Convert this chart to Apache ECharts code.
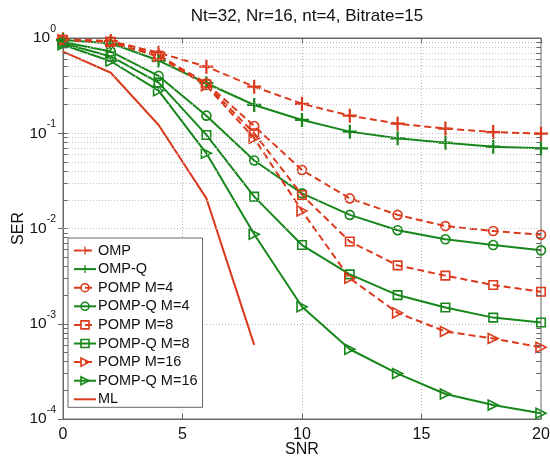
<!DOCTYPE html>
<html>
<head>
<meta charset="utf-8">
<script src="https://cdn.jsdelivr.net/npm/echarts@6/dist/echarts.min.js"></script>
<style>
html, body { margin: 0; padding: 0; background: #fff; }
#main { width: 550px; height: 457px; }
</style>
</head>
<body>
<div id="main"></div>
<script>
// SNR points
var snr = [0, 2, 4, 6, 8, 10, 12, 14, 16, 18, 20];
var snrML = [0, 2, 4, 6, 8];

// SER values
var omp       = [0.97, 0.93, 0.70, 0.50, 0.308, 0.204, 0.153, 0.126, 0.112, 0.103, 0.099];
var ompQ      = [0.95, 0.88, 0.58, 0.335, 0.198, 0.138, 0.104, 0.0885, 0.0796, 0.0722, 0.0695];
var pompM4    = [0.96, 0.92, 0.66, 0.335, 0.119, 0.0411, 0.0207, 0.0139, 0.0106, 0.0094, 0.0086];
var pompQM4   = [0.91, 0.72, 0.40, 0.153, 0.0518, 0.0234, 0.0139, 0.0096, 0.0077, 0.0067, 0.0059];
var pompM8    = [0.96, 0.91, 0.65, 0.325, 0.100, 0.0225, 0.0073, 0.0041, 0.0032, 0.00255, 0.00217];
var pompQM8   = [0.88, 0.64, 0.34, 0.096, 0.0216, 0.0067, 0.0033, 0.0020, 0.00148, 0.00116, 0.00103];
var pompM16   = [0.96, 0.90, 0.64, 0.315, 0.0885, 0.0153, 0.0030, 0.0013, 0.00083, 0.0007, 0.000565];
var pompQM16  = [0.85, 0.57, 0.28, 0.0616, 0.0087, 0.00151, 0.00054, 0.0003, 0.000183, 0.00014, 0.000115];
var ml        = [0.718, 0.432, 0.122, 0.0207, 0.0006];

// axis ticks
var xTicks = [0, 5, 10, 15, 20];
var yDecades = [1e-4, 1e-3, 1e-2, 1e-1, 1];
var yMinorSteps = [2, 3, 4, 5, 6, 7, 8, 9];

var red = '#dc3a1c';
var green = '#17871b';
var font = 'Liberation Sans';
var plus = 'path://M4.2,0H5.8V4.2H10V5.8H5.8V10H4.2V5.8H0V4.2H4.2Z';
var dash = [7, 4];
var clear = 'rgba(255,255,255,0)';

var minorVals = [];
for (var d = 0; d < yDecades.length - 1; d++) {
    for (var k = 0; k < yMinorSteps.length; k++) {
        minorVals.push(yDecades[d] * yMinorSteps[k]);
    }
}
var gridMarks = [];
minorVals.forEach(function (v) { gridMarks.push({ yAxis: v }); });
var edgeTicks = [];
minorVals.forEach(function (v) {
    edgeTicks.push([{ coord: [0, v] }, { coord: [0.2, v] }]);
    edgeTicks.push([{ coord: [19.8, v] }, { coord: [20, v] }]);
});

function isHollow(symbol) { return symbol !== plus && symbol !== 'none'; }

function markStyle(color, symbol) {
    if (symbol === 'none') return { color: clear, borderWidth: 0, opacity: 0 };
    return isHollow(symbol)
        ? { color: clear, borderColor: color, borderWidth: 1.6 }
        : { color: color, borderWidth: 0 };
}

function mk(name, xs, ys, color, dashed, symbol, size, rotate) {
    return {
        name: name,
        type: 'line',
        data: xs.map(function (x, i) { return [x, ys[i]]; }),
        symbol: symbol,
        symbolSize: size,
        symbolRotate: rotate || 0,
        showAllSymbol: true,
        z: 3,
        lineStyle: { color: color, width: 2, type: dashed ? dash : 'solid' },
        itemStyle: markStyle(color, symbol),
        emphasis: { disabled: true },
        animation: false
    };
}

function lg(name, color, dashed, symbol) {
    return {
        name: name,
        itemStyle: markStyle(color, symbol),
        lineStyle: { color: color, width: 2, type: dashed ? dash : 'solid' }
    };
}

var chart = echarts.init(document.getElementById('main'));
var option = {
    backgroundColor: '#fff',
    title: {
        text: 'Nt=32, Nr=16, nt=4, Bitrate=15',
        left: 302,
        textAlign: 'center',
        top: 3,
        textStyle: { fontFamily: font, fontSize: 17, fontWeight: 'normal', color: '#111' }
    },
    grid: {
        left: 63, right: 9, top: 38, bottom: 38,
        containLabel: false, outerBoundsMode: 'none',
        show: true, borderColor: '#666', borderWidth: 1
    },
    legend: {
        orient: 'vertical',
        left: 68,
        top: 238,
        padding: [5, 5, 0.5, 5],
        itemWidth: 22,
        itemHeight: 10,
        itemGap: 3.6,
        backgroundColor: '#fff',
        borderColor: '#666',
        borderWidth: 1,
        borderRadius: 0,
        textStyle: { fontFamily: font, fontSize: 14.5, color: '#111', lineHeight: 14.5, padding: [0, 0, 0, -3] },
        data: [
            lg('OMP', red, true, plus),
            lg('OMP-Q', green, false, plus),
            lg('POMP M=4', red, true, 'circle'),
            lg('POMP-Q M=4', green, false, 'circle'),
            lg('POMP M=8', red, true, 'rect'),
            lg('POMP-Q M=8', green, false, 'rect'),
            lg('POMP M=16', red, true, 'triangle'),
            lg('POMP-Q M=16', green, false, 'triangle'),
            lg('ML', red, false, 'none')
        ]
    },
    xAxis: [{
        type: 'value',
        min: 0, max: 20, interval: 5,
        name: 'SNR',
        nameLocation: 'middle',
        nameGap: 23,
        nameMoveOverlap: false,
        nameTextStyle: { fontFamily: font, fontSize: 16, color: '#111' },
        axisLine: { lineStyle: { color: '#666' } },
        axisTick: { inside: true, length: 5, lineStyle: { color: '#666' } },
        axisLabel: { margin: 8, fontFamily: font, fontSize: 16, color: '#111',
            formatter: function (v) { return xTicks.indexOf(v) >= 0 ? String(v) : ''; } },
        splitLine: { show: true, lineStyle: { color: '#b8b8b8', type: [1, 2] } }
    }, {
        type: 'value', position: 'top',
        min: 0, max: 20, interval: 5,
        axisLine: { lineStyle: { color: '#666' } },
        axisTick: { inside: true, length: 5, lineStyle: { color: '#666' } },
        axisLabel: { show: false },
        splitLine: { show: false }
    }],
    yAxis: [{
        type: 'log', logBase: 10,
        min: 1e-4, max: 1,
        name: 'SER',
        nameLocation: 'middle',
        nameGap: 36,
        nameMoveOverlap: false,
        nameTextStyle: { fontFamily: font, fontSize: 16, color: '#111' },
        axisLine: { lineStyle: { color: '#666' } },
        axisTick: { inside: true, length: 5, lineStyle: { color: '#666' } },
        axisLabel: {
            margin: 7,
            formatter: function (v) {
                var e = Math.round(Math.log(v) / Math.LN10);
                return '{b|10}{e|' + e + '}';
            },
            rich: {
                b: { fontFamily: font, fontSize: 15.5, color: '#111' },
                e: { fontFamily: font, fontSize: 10.5, color: '#111', padding: [0, 0, 18, 0] }
            }
        },
        splitLine: { show: true, lineStyle: { color: '#b8b8b8', type: [1, 2] } }
    }, {
        type: 'log', logBase: 10, position: 'right',
        min: 1e-4, max: 1,
        axisLine: { lineStyle: { color: '#666' } },
        axisTick: { inside: true, length: 5, lineStyle: { color: '#666' } },
        axisLabel: { show: false },
        splitLine: { show: false }
    }],
    series: [
        {
            name: 'grid',
            type: 'line',
            data: [],
            z: 1,
            silent: true,
            animation: false,
            markLine: {
                silent: true,
                symbol: 'none',
                label: { show: false },
                animation: false,
                lineStyle: { color: '#c4c4c4', width: 1, type: [1, 2] },
                data: gridMarks
            }
        },
        {
            name: 'ticks',
            type: 'line',
            data: [],
            z: 1,
            silent: true,
            animation: false,
            markLine: {
                silent: true,
                symbol: 'none',
                label: { show: false },
                animation: false,
                lineStyle: { color: '#666', width: 1, type: 'solid' },
                data: edgeTicks
            }
        },
        mk('OMP', snr, omp, red, true, plus, 14),
        mk('OMP-Q', snr, ompQ, green, false, plus, 14),
        mk('POMP M=4', snr, pompM4, red, true, 'circle', 9),
        mk('POMP-Q M=4', snr, pompQM4, green, false, 'circle', 9),
        mk('POMP M=8', snr, pompM8, red, true, 'rect', 8.5),
        mk('POMP-Q M=8', snr, pompQM8, green, false, 'rect', 8.5),
        mk('POMP M=16', snr, pompM16, red, true, 'triangle', 10, -90),
        mk('POMP-Q M=16', snr, pompQM16, green, false, 'triangle', 10, -90),
        mk('ML', snrML, ml, red, false, 'none', 0)
    ]
};
chart.setOption(option);
window.addEventListener('resize', function () { chart.resize(); });
</script>
</body>
</html>
